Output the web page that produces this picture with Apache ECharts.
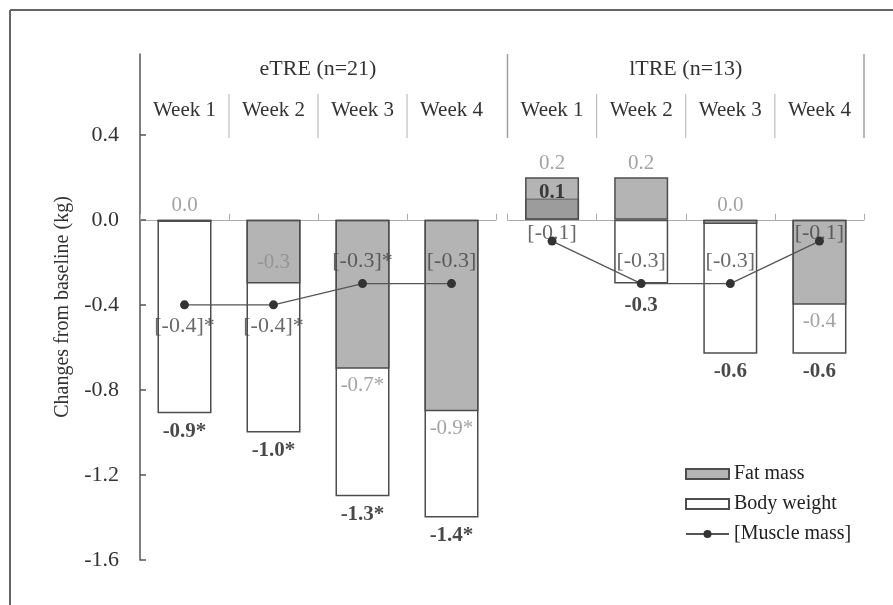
<!DOCTYPE html>
<html><head><meta charset="utf-8">
<script src="https://cdn.jsdelivr.net/npm/echarts@6/dist/echarts.min.js"></script>
<style>html,body{margin:0;padding:0;background:#fff}#c{width:893px;height:605px}</style>
</head><body><div id="c"></div>
<script>
// ---------------- data ----------------
const weeks = ['Week 1', 'Week 2', 'Week 3', 'Week 4'];
const groupNames = ['eTRE (n=21)', 'lTRE (n=13)'];
const yTickValues = [-1.6, -1.2, -0.8, -0.4, 0.0, 0.4];

const eBodyWeight = [-0.91, -1.0, -1.3, -1.4];
const eBodyWeightText = ['-0.9*', '-1.0*', '-1.3*', '-1.4*'];
const eFatMass = [-0.01, -0.3, -0.7, -0.9];
const eFatMassText = ['0.0', '-0.3', '-0.7*', '-0.9*'];
const eMuscleMass = [-0.4, -0.4, -0.3, -0.3];
const eMuscleMassText = ['[-0.4]*', '[-0.4]*', '[-0.3]*', '[-0.3]'];

const lBodyWeight = [0.1, -0.3, -0.63, -0.63];
const lBodyWeightText = ['0.1', '-0.3', '-0.6', '-0.6'];
const lFatMass = [0.2, 0.2, -0.02, -0.4];
const lFatMassText = ['0.2', '0.2', '0.0', '-0.4'];
const lMuscleMass = [-0.1, -0.3, -0.3, -0.1];
const lMuscleMassText = ['[-0.1]', '[-0.3]', '[-0.3]', '[-0.1]'];

// ---------------- styling / layout ----------------
const FONT = 'Liberation Serif';
const yMin = -1.6, yMax = 0.78;
const fatPlace = [['above', 'inside', 'below', 'below'], ['above', 'above', 'above', 'below']];
const bwPlace = [['below', 'below', 'below', 'below'], ['inside', 'belowFar', 'below', 'below']];
const musclePlace = [['below', 'below', 'above', 'above'], ['overlap', 'above', 'above', 'overlap']];

const placeCfg = {
  fat: {
    above: { anchor: v => Math.max(v, 0), position: 'top', distance: 3 },
    inside: { anchor: v => v, position: 'top', distance: 10 },
    below: { anchor: v => v, position: 'bottom', distance: 6 }
  },
  bw: {
    below: { anchor: v => v, position: 'bottom', distance: 7 },
    belowFar: { anchor: v => v, position: 'bottom', distance: 11 },
    inside: { anchor: v => v, position: 'top', distance: -5 }
  },
  muscle: {
    below: { anchor: v => v, position: 'bottom', distance: 10 },
    above: { anchor: v => v, position: 'top', distance: 11 },
    overlap: { anchor: v => v, position: 'top', distance: -4 }
  }
};
const labelStyle = {
  fat: { fontSize: 21, color: '#8c8c8c', fontFamily: FONT },
  bw: { fontSize: 21, color: '#1a1a1a', fontWeight: 'bold', fontFamily: FONT },
  muscle: { fontSize: 22, color: '#444444', fontFamily: FONT }
};

function labelSeries(gi, kind, values, texts, places) {
  return {
    type: 'scatter', name: kind + 'Labels' + gi, xAxisIndex: gi, yAxisIndex: gi,
    symbol: 'circle', symbolSize: 1, silent: true, z: 6,
    itemStyle: { color: 'rgba(0,0,0,0)' },
    label: Object.assign({ show: true, formatter: p => texts[p.dataIndex] }, labelStyle[kind]),
    data: values.map((v, i) => {
      const c = placeCfg[kind][places[i]];
      return { value: [i, c.anchor(v)], label: { position: c.position, distance: c.distance } };
    })
  };
}

const border = '#4d4d4d';
const fatColor = 'rgba(140,140,142,0.65)';

function groupSeries(gi, bw, bwText, fat, fatText, mus, musText) {
  return [
    {
      type: 'bar', name: 'Body weight', xAxisIndex: gi, yAxisIndex: gi, barWidth: 54,
      itemStyle: { color: '#ffffff', borderColor: border, borderWidth: 1.5 },
      data: bw.map(v => v > 0 ? { value: v, itemStyle: { color: '#b9b9ba' } } : v)
    },
    {
      type: 'bar', name: 'Fat mass', xAxisIndex: gi, yAxisIndex: gi, barWidth: 54, barGap: '-100%',
      itemStyle: { color: fatColor, borderColor: border, borderWidth: 1.5 },
      data: fat
    },
    {
      type: 'line', name: '[Muscle mass]', xAxisIndex: gi, yAxisIndex: gi, z: 4,
      symbol: 'circle', symbolSize: 9,
      itemStyle: { color: '#333333' }, lineStyle: { color: '#555555', width: 1.2 },
      data: mus
    },
    labelSeries(gi, 'fat', fat, fatText, fatPlace[gi]),
    labelSeries(gi, 'bw', bw, bwText, bwPlace[gi]),
    labelSeries(gi, 'muscle', mus, musText, musclePlace[gi])
  ];
}

function bottomX(gi) {
  return {
    type: 'category', gridIndex: gi, data: weeks,
    axisLine: { onZero: true, lineStyle: { color: '#aaaaaa', width: 1 } },
    axisTick: { show: true, inside: true, length: 6, lineStyle: { color: '#aaaaaa' } },
    axisLabel: { show: false }, splitLine: { show: false }
  };
}
function topX(gi) {
  return {
    type: 'category', gridIndex: gi, data: weeks, position: 'top', offset: -84,
    axisLine: { show: false, onZero: false }, axisTick: { show: false },
    axisLabel: { fontSize: 21, color: '#333', margin: 17, fontFamily: FONT },
    splitLine: { show: false },
    name: groupNames[gi], nameLocation: 'middle', nameGap: 58,
    nameTextStyle: { fontSize: 22, color: '#333', fontFamily: FONT }
  };
}

const option = {
  animation: false,
  textStyle: { fontFamily: FONT },
  grid: [
    { left: 140, top: 54, width: 356, height: 506, containLabel: false, outerBoundsMode: 'none' },
    { left: 507.5, top: 54, width: 356.5, height: 506, containLabel: false, outerBoundsMode: 'none' }
  ],
  legend: {
    orient: 'vertical', left: 680, top: 459, itemWidth: 43, itemHeight: 10, itemGap: 10,
    selectedMode: false,
    textStyle: { fontSize: 20, color: '#222', fontFamily: FONT },
    data: [{ name: 'Fat mass', icon: 'rect' }, { name: 'Body weight', icon: 'rect' }, { name: '[Muscle mass]' }]
  },
  xAxis: [bottomX(0), bottomX(1), topX(0), topX(1)],
  yAxis: [
    {
      type: 'value', gridIndex: 0, min: yMin, max: yMax,
      axisLine: { show: true, lineStyle: { color: '#555', width: 1.5 } },
      axisTick: { show: true, inside: true, length: 6, customValues: yTickValues, lineStyle: { color: '#555', width: 1.5 } },
      axisLabel: { customValues: yTickValues, formatter: v => Number(v).toFixed(1), fontSize: 22, color: '#333', margin: 21, fontFamily: FONT },
      splitLine: { show: false },
      name: 'Changes from baseline (kg)', nameLocation: 'middle', nameGap: 67,
      nameTextStyle: { fontSize: 20, color: '#333', fontFamily: FONT }
    },
    {
      type: 'value', gridIndex: 1, min: yMin, max: yMax, show: false,
      axisLine: { show: false }, axisTick: { show: false }, axisLabel: { show: false }, splitLine: { show: false }
    }
  ],
  series: [].concat(
    groupSeries(0, eBodyWeight, eBodyWeightText, eFatMass, eFatMassText, eMuscleMass, eMuscleMassText),
    groupSeries(1, lBodyWeight, lBodyWeightText, lFatMass, lFatMassText, lMuscleMass, lMuscleMassText)
  )
};

const chart = echarts.init(document.getElementById('c'), null, { renderer: 'canvas' });
chart.setOption(option);

// header separators and outer frame
const yTop = chart.convertToPixel({ yAxisIndex: 0 }, yMax);
const headerBottom = 138, weekSepTop = 94;
const g = [
  { type: 'line', shape: { x1: 10, y1: 10, x2: 893, y2: 10 }, style: { stroke: '#666', lineWidth: 2 } },
  { type: 'line', shape: { x1: 10, y1: 10, x2: 10, y2: 605 }, style: { stroke: '#666', lineWidth: 2 } }
];
[0, 1].forEach(gi => {
  const c = weeks.map((w, i) => chart.convertToPixel({ xAxisIndex: gi }, i));
  const band = c[1] - c[0];
  for (let i = 1; i < c.length; i++) {
    const x = (c[i - 1] + c[i]) / 2;
    g.push({ type: 'line', shape: { x1: x, y1: weekSepTop, x2: x, y2: headerBottom }, style: { stroke: '#b0b0b0', lineWidth: 1 } });
  }
  if (gi === 1) {
    [c[0] - band / 2, c[c.length - 1] + band / 2].forEach(x => {
      g.push({ type: 'line', shape: { x1: x, y1: yTop, x2: x, y2: headerBottom }, style: { stroke: '#a0a0a0', lineWidth: 1.5 } });
    });
  }
});
chart.setOption({ graphic: g });
</script>
</body></html>
